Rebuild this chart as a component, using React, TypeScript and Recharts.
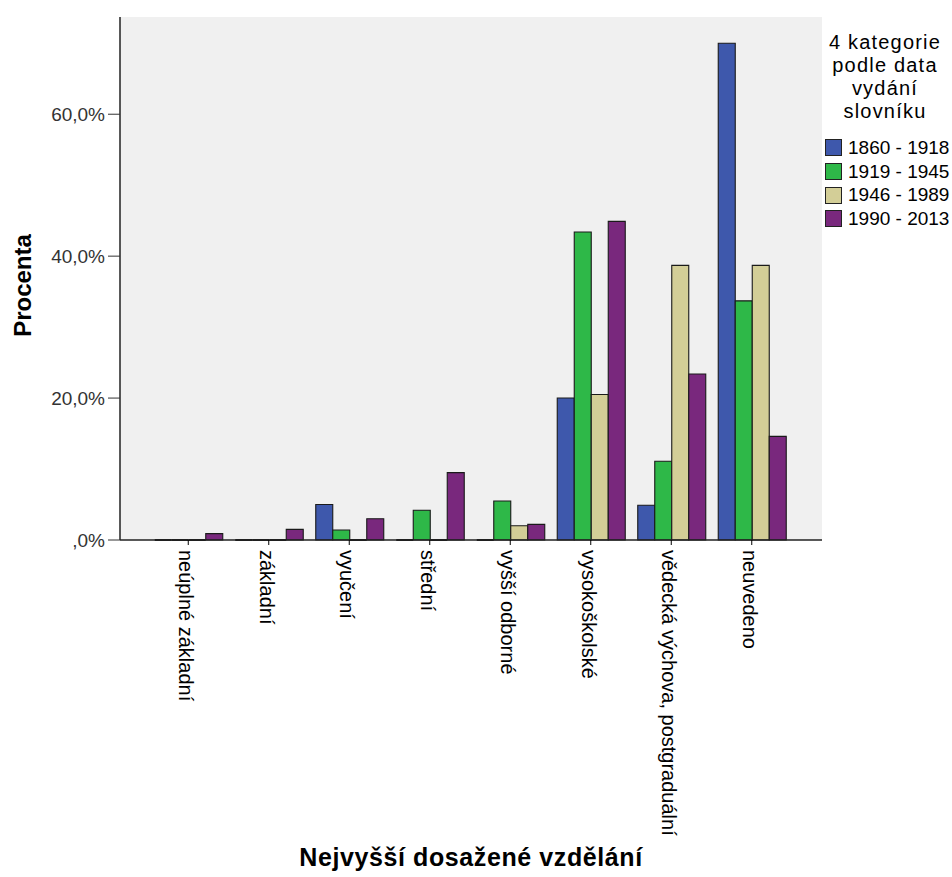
import React from 'react';
import { BarChart, Bar, XAxis, YAxis, CartesianGrid, Legend } from 'recharts';

const categories = [
  'neúplné základní',
  'základní',
  'vyučení',
  'střední',
  'vyšší odborné',
  'vysokoškolské',
  'vědecká výchova, postgraduální',
  'neuvedeno',
];
const s1860 = [0, 0, 5.0, 0, 0, 20.0, 4.9, 70.0];
const s1919 = [0, 0, 1.4, 4.2, 5.5, 43.4, 11.1, 33.7];
const s1946 = [0, 0, 0, 0, 2.0, 20.5, 38.7, 38.7];
const s1990 = [0.9, 1.5, 3.0, 9.5, 2.2, 44.9, 23.4, 14.6];
const seriesKeys = ['s1860', 's1919', 's1946', 's1990'];
const seriesNames = ['1860 - 1918', '1919 - 1945', '1946 - 1989', '1990 - 2013'];
const seriesColors = ['#3E58AC', '#2EB848', '#D3CE97', '#79287D'];
const yTicks = [0, 20, 40, 60];
const legendTitle = ['4 kategorie', 'podle data', 'vydání', 'slovníku'];
const xTitle = 'Nejvyšší dosažené vzdělání';
const yTitle = 'Procenta';

const data = categories.map((name, i) => ({
  name,
  s1860: s1860[i],
  s1919: s1919[i],
  s1946: s1946[i],
  s1990: s1990[i],
}));

const FONT = '"Liberation Sans", Arial, sans-serif';

const BarShape = (props: any) => {
  const { x, y, width, height, fill } = props;
  if (x == null || y == null) return null;
  const h = height || 0;
  return (
    <path
      d={`M${x},${y}h${width}v${h}h${-width}Z`}
      fill={fill}
      stroke="#1a1a1a"
      strokeWidth={h === 0 ? 1.8 : 1.1}
    />
  );
};

const XTick = (props: any) => {
  const { x, y, payload } = props;
  return (
    <g transform={`translate(${x - 9},${y + 3})`}>
      <text transform="rotate(90)" textAnchor="start" fontSize={20} fill="#000" fontFamily={FONT}>
        {payload.value}
      </text>
    </g>
  );
};

const YTickFmt = (v: number) => (v === 0 ? ',0%' : `${v},0%`);

const XTitle = (props: any) => {
  const vb = props.viewBox || {};
  return (
    <text
      x={vb.x + vb.width / 2}
      y={vb.y + vb.height - 20}
      textAnchor="middle"
      dominantBaseline="central"
      fontSize={25}
      fontWeight="bold"
      letterSpacing={0.6}
      fill="#000"
      fontFamily={FONT}
    >
      {xTitle}
    </text>
  );
};

const YTitle = (props: any) => {
  const vb = props.viewBox || {};
  const cx = vb.x + 14;
  const cy = vb.y + vb.height / 2 + 7;
  return (
    <text
      x={cx}
      y={cy}
      transform={`rotate(-90,${cx},${cy})`}
      textAnchor="middle"
      dominantBaseline="central"
      fontSize={24}
      fontWeight="bold"
      fill="#000"
      fontFamily={FONT}
    >
      {yTitle}
    </text>
  );
};

const LegendContent = (props: any) => {
  const payload = props.payload || [];
  return (
    <div style={{ fontFamily: FONT, color: '#000', paddingTop: 14, width: 122, whiteSpace: 'nowrap' }}>
      {legendTitle.map((t) => (
        <div
          key={t}
          style={{ textAlign: 'center', lineHeight: '23px', height: 23, fontSize: 20, letterSpacing: 1.2, paddingLeft: 4 }}
        >
          {t}
        </div>
      ))}
      <div style={{ marginTop: 13, fontSize: 19 }}>
        {payload.map((p: any) => (
          <div key={p.value} style={{ display: 'flex', alignItems: 'center', height: 23.7 }}>
            <span
              style={{
                display: 'inline-block',
                flex: 'none',
                width: 15,
                height: 15,
                background: p.color,
                border: '1px solid #222',
                marginLeft: 3,
                marginRight: 6,
              }}
            />
            <span>{p.value}</span>
          </div>
        ))}
      </div>
    </div>
  );
};

export default function App() {
  return (
    <div style={{ fontFamily: FONT, position: 'absolute', top: 8, left: 8 }}>
      <BarChart
        width={936}
        height={869}
        data={data}
        margin={{ top: 9, right: 0, left: 0, bottom: 0 }}
        barCategoryGap={6.75}
        barGap={0}
      >
        <CartesianGrid fill="#F0F0F0" horizontal={false} vertical={false} />
        <XAxis
          dataKey="name"
          interval={0}
          height={337}
          padding={{ left: 28, right: 30 }}
          tick={<XTick />}
          tickSize={5}
          tickLine={{ stroke: '#000' }}
          axisLine={{ stroke: '#222', strokeWidth: 1.5 }}
          label={<XTitle />}
        />
        <XAxis
          xAxisId="top"
          dataKey="name"
          orientation="top"
          height={0}
          tick={false}
          tickLine={false}
          axisLine={{ stroke: '#444', strokeWidth: 1.5 }}
        />
        <YAxis
          domain={[0, 73.7]}
          ticks={yTicks}
          tickFormatter={YTickFmt}
          width={112}
          tickSize={12}
          tickMargin={3}
          tick={{ fontSize: 19, fill: '#333', fontFamily: FONT }}
          tickLine={{ stroke: '#333' }}
          axisLine={{ stroke: '#222', strokeWidth: 1.5 }}
          label={<YTitle />}
        />
        <YAxis
          yAxisId="right"
          orientation="right"
          width={0}
          tick={false}
          tickLine={false}
          axisLine={{ stroke: '#444', strokeWidth: 1.5 }}
        />
        <Legend
          layout="vertical"
          align="right"
          verticalAlign="top"
          width={122}
          content={<LegendContent />}
        />
        {seriesKeys.map((k, i) => (
          <Bar
            key={k}
            dataKey={k}
            name={seriesNames[i]}
            fill={seriesColors[i]}
            isAnimationActive={false}
            shape={<BarShape />}
          />
        ))}
      </BarChart>
    </div>
  );
}
